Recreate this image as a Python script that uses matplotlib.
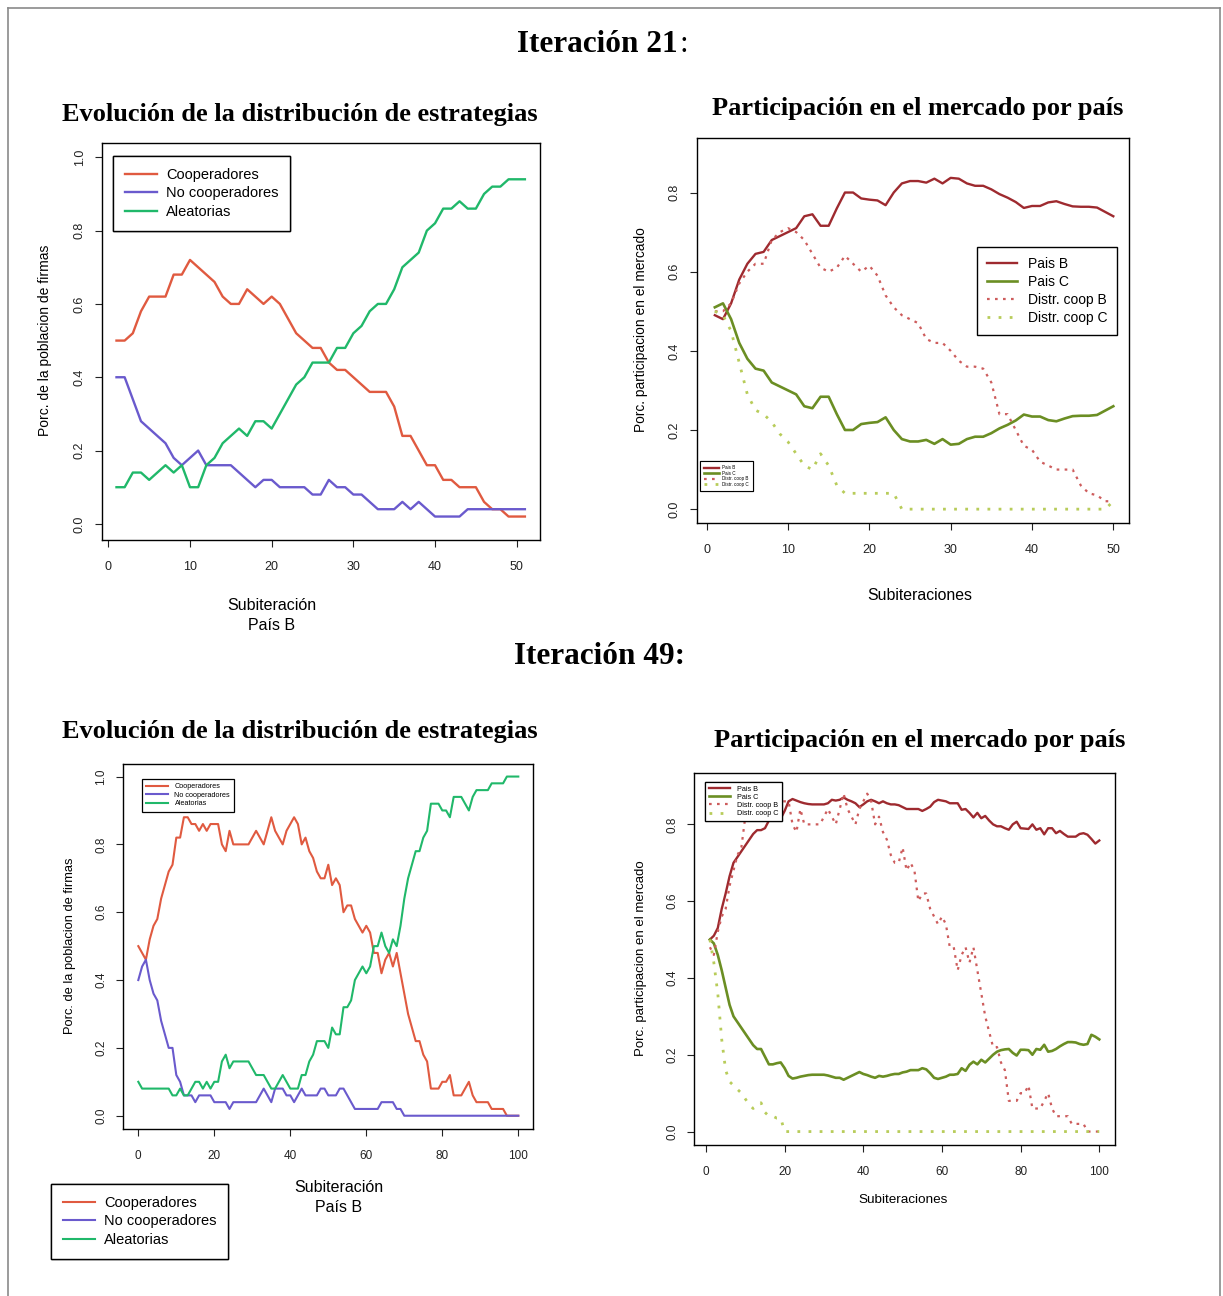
import matplotlib
matplotlib.use('Agg')
import matplotlib.pyplot as plt
from matplotlib.lines import Line2D

# ---------------- DATA ----------------
# Iteración 21 - left panel (Subiteración 1..51)
sub21 = list(range(1, 52))
cooperadores21 = [.50, .50, .52, .58, .62, .62, .62, .68, .68, .72,
                  .70, .68, .66, .62, .60, .60, .64, .62, .60, .62,
                  .60, .56, .52, .50, .48, .48, .44, .42, .42, .40,
                  .38, .36, .36, .36, .32, .24, .24, .20, .16, .16,
                  .12, .12, .10, .10, .10, .06, .04, .04, .02, .02, .02]
nocoop21 = [.40, .40, .34, .28, .26, .24, .22, .18, .16, .18,
            .20, .16, .16, .16, .16, .14, .12, .10, .12, .12,
            .10, .10, .10, .10, .08, .08, .12, .10, .10, .08,
            .08, .06, .04, .04, .04, .06, .04, .06, .04, .02,
            .02, .02, .02, .04, .04, .04, .04, .04, .04, .04, .04]
aleatorias21 = [.10, .10, .14, .14, .12, .14, .16, .14, .16, .10,
                .10, .16, .18, .22, .24, .26, .24, .28, .28, .26,
                .30, .34, .38, .40, .44, .44, .44, .48, .48, .52,
                .54, .58, .60, .60, .64, .70, .72, .74, .80, .82,
                .86, .86, .88, .86, .86, .90, .92, .92, .94, .94, .94]

# Iteración 21 - right panel (Subiteraciones 1..50)
subm21 = list(range(1, 51))
paisB21 = [.49, .48, .52, .58, .62, .645, .65, .68, .69, .70,
           .71, .74, .745, .716, .716, .76, .80, .80, .785, .782,
           .78, .768, .80, .823, .829, .829, .825, .835, .823, .837,
           .835, .823, .817, .817, .808, .796, .787, .776, .761, .766,
           .766, .775, .778, .771, .765, .764, .764, .762, .751, .74]
paisC21 = [.51, .52, .48, .42, .38, .355, .35, .32, .31, .30,
           .29, .26, .255, .284, .284, .24, .20, .20, .215, .218,
           .22, .232, .20, .177, .171, .171, .175, .165, .177, .163,
           .165, .177, .183, .183, .192, .204, .213, .224, .239, .234,
           .234, .225, .222, .229, .235, .236, .236, .238, .249, .26]
coopB21 = [.50, .50, .52, .57, .60, .62, .62, .68, .70, .71,
           .70, .68, .645, .61, .60, .61, .64, .62, .60, .615,
           .59, .54, .51, .49, .48, .47, .43, .42, .42, .40,
           .375, .36, .36, .355, .32, .24, .24, .20, .16, .15,
           .12, .11, .10, .10, .10, .06, .04, .035, .02, .02]
coopC21 = [.50, .49, .45, .37, .29, .25, .24, .22, .19, .17,
           .14, .11, .10, .14, .11, .06, .04, .04, .04, .04,
           .04, .04, .04, 0, 0, 0, 0, 0, 0, 0,
           0, 0, 0, 0, 0, 0, 0, 0, 0, 0,
           0, 0, 0, 0, 0, 0, 0, 0, 0, .02]

# Iteración 49 - left panel (Subiteración 0..100)
sub49 = list(range(0, 101))
cooperadores49 = [.50, .48, .46, .52, .56, .58, .64, .68, .72, .74,
                  .82, .82, .88, .88, .86, .86, .84, .86, .84, .86,
                  .86, .86, .80, .78, .84, .80, .80, .80, .80, .80,
                  .82, .84, .82, .80, .84, .88, .84, .82, .80, .84,
                  .86, .88, .86, .80, .82, .78, .76, .72, .70, .70,
                  .74, .68, .70, .68, .60, .62, .62, .58, .56, .54,
                  .56, .54, .48, .48, .42, .46, .48, .44, .48, .42,
                  .36, .30, .26, .22, .22, .18, .16, .08, .08, .08,
                  .10, .10, .12, .06, .06, .06, .08, .10, .06, .04,
                  .04, .04, .04, .02, .02, .02, .02, 0, 0, 0, 0]
nocoop49 = [.40, .44, .46, .40, .36, .34, .28, .24, .20, .20,
            .12, .10, .06, .06, .06, .04, .06, .06, .06, .06,
            .04, .04, .04, .04, .02, .04, .04, .04, .04, .04,
            .04, .04, .06, .08, .06, .04, .08, .08, .08, .06,
            .06, .04, .06, .08, .06, .06, .06, .06, .08, .08,
            .06, .06, .06, .08, .08, .06, .04, .02, .02, .02,
            .02, .02, .02, .02, .04, .04, .04, .04, .02, .02,
            0, 0, 0, 0, 0, 0, 0, 0, 0, 0,
            0, 0, 0, 0, 0, 0, 0, 0, 0, 0,
            0, 0, 0, 0, 0, 0, 0, 0, 0, 0, 0]
aleatorias49 = [.10, .08, .08, .08, .08, .08, .08, .08, .08, .06,
                .06, .08, .06, .06, .08, .10, .10, .08, .10, .08,
                .10, .10, .16, .18, .14, .16, .16, .16, .16, .16,
                .14, .12, .12, .12, .10, .08, .08, .10, .12, .10,
                .08, .08, .08, .12, .12, .16, .18, .22, .22, .22,
                .20, .26, .24, .24, .32, .32, .34, .40, .42, .44,
                .42, .44, .50, .50, .54, .50, .48, .52, .50, .56,
                .64, .70, .74, .78, .78, .82, .84, .92, .92, .92,
                .90, .90, .88, .94, .94, .94, .92, .90, .94, .96,
                .96, .96, .96, .98, .98, .98, .98, 1.0, 1.0, 1.0, 1.0]

# Iteración 49 - right panel (Subiteraciones 1..100)
subm49 = list(range(1, 101))
paisB49 = [.50, .51, .53, .58, .62, .665, .70, .715, .73, .745,
           .76, .775, .785, .785, .79, .81, .815, .815, .815, .835,
           .86, .866, .862, .858, .855, .853, .852, .852, .852, .852,
           .855, .864, .862, .864, .87, .864, .86, .855, .845, .852,
           .86, .864, .86, .855, .86, .855, .852, .852, .85, .845,
           .84, .84, .84, .84, .835, .84, .846, .858, .864, .862,
           .86, .855, .855, .855, .838, .84, .83, .818, .83, .816,
           .822, .81, .80, .795, .795, .79, .786, .80, .807, .79,
           .789, .788, .80, .786, .79, .774, .79, .79, .777, .783,
           .775, .768, .768, .768, .775, .777, .773, .762, .75, .758]
paisC49 = [.50, .49, .46, .42, .375, .33, .30, .285, .27, .255,
           .24, .225, .215, .215, .195, .175, .175, .178, .18, .165,
           .145, .138, .14, .143, .145, .147, .148, .148, .148, .148,
           .146, .143, .14, .14, .135, .14, .145, .15, .155, .15,
           .147, .143, .14, .145, .143, .145, .148, .15, .15, .154,
           .156, .16, .16, .16, .165, .162, .152, .14, .137, .14,
           .143, .148, .148, .15, .165, .158, .174, .182, .175, .187,
           .18, .19, .20, .208, .212, .214, .215, .205, .198, .213,
           .213, .212, .20, .215, .213, .226, .208, .21, .215, .222,
           .228, .233, .233, .232, .228, .226, .228, .252, .247, .24]
coopB49 = cooperadores49[1:]   # same cooperator share as the left panel
coopC49 = [.50, .44, .36, .24, .16, .13, .12, .11, .10, .085,
           .07, .06, .07, .075, .05, .04, .04, .035, .035, 0,
           0, 0, 0, 0, 0, 0, 0, 0, 0, 0,
           0, 0, 0, 0, 0, 0, 0, 0, 0, 0,
           0, 0, 0, 0, 0, 0, 0, 0, 0, 0,
           0, 0, 0, 0, 0, 0, 0, 0, 0, 0,
           0, 0, 0, 0, 0, 0, 0, 0, 0, 0,
           0, 0, 0, 0, 0, 0, 0, 0, 0, 0,
           0, 0, 0, 0, 0, 0, 0, 0, 0, 0,
           0, 0, 0, 0, 0, 0, 0, 0, 0, 0]

strat_labels = ['Cooperadores', 'No cooperadores', 'Aleatorias']
market_labels = ['Pais B', 'Pais C', 'Distr. coop B', 'Distr. coop C']

# ---------------- STYLE ----------------
C_COOP, C_NOCOOP, C_ALEA = '#e05a40', '#6a5acd', '#20b86a'
C_PB, C_PC, C_DB, C_DC = '#9e2a2f', '#6b8e23', '#cd5c5c', '#b8cc5a'

W, H = 1223, 1296
plt.rcParams['font.family'] = ['Liberation Sans', 'DejaVu Sans']
fig = plt.figure(figsize=(W / 100, H / 100), dpi=100)
fig.patch.set_facecolor('white')


def rect(l, t, r, b):
    return [l / W, 1 - b / H, (r - l) / W, (b - t) / H]


def fx(px):
    return px / W


def fy(py):
    return 1 - py / H


def style(ax, xlim, ylim, xticks, yticks, lsize=9):
    ax.set_xlim(xlim)
    ax.set_ylim(ylim)
    ax.set_xticks(xticks)
    ax.set_yticks(yticks)
    ax.set_xticklabels([str(t) for t in xticks])
    ax.set_yticklabels([f'{t:.1f}' for t in yticks], rotation=90, va='center')
    ax.tick_params(direction='out', length=5, width=0.8,
                   labelsize=lsize, colors='#222222')
    ax.tick_params(axis='x', pad=10)
    ax.tick_params(axis='y', pad=6.5)
    for s in ax.spines.values():
        s.set_linewidth(1.0)


def legend(ax, handles, labels, x, y, fs, hl, htp, ls, bp, lw=1.0):
    lg = ax.legend(handles, labels, loc='upper left',
                   bbox_to_anchor=(fx(x), fy(y)), bbox_transform=fig.transFigure,
                   borderaxespad=0, fancybox=False, edgecolor='black',
                   framealpha=1, fontsize=fs, handlelength=hl,
                   handletextpad=htp, labelspacing=ls, borderpad=bp)
    lg.get_frame().set_linewidth(lw)
    ax.add_artist(lg)
    return lg


TITLE = dict(family=['Liberation Serif', 'DejaVu Serif'], fontweight='bold')

# ---- frame of the page ----
for xs, ys in [([8, 8], [1296, 8]), ([8, 1220], [8, 8]), ([1220, 1220], [8, 1296])]:
    fig.add_artist(Line2D([fx(v) for v in xs], [fy(v) for v in ys],
                          transform=fig.transFigure, color='#8a8a8a', lw=1.2))

# ---- headings ----
fig.text(fx(678), fy(44), 'Iteración 21', ha='right', va='center', fontsize=22.5, **TITLE)
fig.text(fx(679), fy(44), ':', ha='left', va='center', fontsize=22.5,
         family=['Liberation Serif', 'DejaVu Serif'])
fig.text(fx(600), fy(657), 'Iteración 49:', ha='center', va='center', fontsize=22.5, **TITLE)
fig.text(fx(300), fy(114), 'Evolución de la distribución de estrategias',
         ha='center', va='center', fontsize=19, **TITLE)
fig.text(fx(918), fy(108), 'Participación en el mercado por país',
         ha='center', va='center', fontsize=19, **TITLE)
fig.text(fx(300), fy(732), 'Evolución de la distribución de estrategias',
         ha='center', va='center', fontsize=19, **TITLE)
fig.text(fx(920), fy(740), 'Participación en el mercado por país',
         ha='center', va='center', fontsize=19, **TITLE)

# ================= Iteración 21 left =================
ax1 = fig.add_axes(rect(101.7, 143, 540, 540))
h1 = ax1.plot(sub21, cooperadores21, color=C_COOP, lw=1.7)[0]
h2 = ax1.plot(sub21, nocoop21, color=C_NOCOOP, lw=1.7)[0]
h3 = ax1.plot(sub21, aleatorias21, color=C_ALEA, lw=1.7)[0]
style(ax1, (-0.81, 52.85), (-0.044, 1.039), [0, 10, 20, 30, 40, 50],
      [0.0, 0.2, 0.4, 0.6, 0.8, 1.0])
legend(ax1, [h1, h2, h3], strat_labels, 113, 156, 10.5, 2.2, 0.65, 0.32, 0.8)
fig.text(fx(45), fy(340), 'Porc. de la poblacion de firmas', rotation=90,
         ha='center', va='center', fontsize=10)
fig.text(fx(272), fy(606), 'Subiteración', ha='center', va='center', fontsize=11.5)
fig.text(fx(272), fy(626), 'País B', ha='center', va='center', fontsize=11.5)

# ================= Iteración 21 right =================
ax2 = fig.add_axes(rect(696.7, 138.3, 1129, 523))
g1 = ax2.plot(subm21, paisB21, color=C_PB, lw=1.7)[0]
g2 = ax2.plot(subm21, paisC21, color=C_PC, lw=1.9)[0]
g3 = ax2.plot(subm21, coopB21, color=C_DB, lw=1.6, dashes=(1.2, 2.4))[0]
g4 = ax2.plot(subm21, coopC21, color=C_DC, lw=2.0, dashes=(1.0, 3.0))[0]
style(ax2, (-1.23, 51.93), (-0.035, 0.937), [0, 10, 20, 30, 40, 50],
      [0.0, 0.2, 0.4, 0.6, 0.8])
legend(ax2, [g1, g2, g3, g4], market_labels, 977, 247, 10, 2.2, 0.75, 0.3, 0.7)
legend(ax2, [g1, g2, g3, g4], market_labels, 700, 461, 3.3, 3.2, 0.6, 0.12, 0.95, lw=0.8)
fig.text(fx(641), fy(330), 'Porc. participacion en el mercado', rotation=90,
         ha='center', va='center', fontsize=9.9)
fig.text(fx(920), fy(596), 'Subiteraciones', ha='center', va='center', fontsize=11.4)

# ================= Iteración 49 left =================
ax3 = fig.add_axes(rect(123.3, 764, 533.3, 1129.3))
k1 = ax3.plot(sub49, cooperadores49, color=C_COOP, lw=1.5)[0]
k2 = ax3.plot(sub49, nocoop49, color=C_NOCOOP, lw=1.5)[0]
k3 = ax3.plot(sub49, aleatorias49, color=C_ALEA, lw=1.5)[0]
style(ax3, (-3.95, 103.95), (-0.04, 1.037), [0, 20, 40, 60, 80, 100],
      [0.0, 0.2, 0.4, 0.6, 0.8, 1.0], lsize=8.5)
legend(ax3, [k1, k2, k3], strat_labels, 142, 779, 5.2, 3.0, 0.9, 0.2, 0.6, lw=0.9)
legend(ax3, [k1, k2, k3], strat_labels, 51, 1184, 10.5, 2.2, 0.65, 0.32, 0.8)
fig.text(fx(70), fy(946), 'Porc. de la poblacion de firmas', rotation=90,
         ha='center', va='center', fontsize=9.3)
fig.text(fx(339), fy(1188), 'Subiteración', ha='center', va='center', fontsize=11.5)
fig.text(fx(339), fy(1207), 'País B', ha='center', va='center', fontsize=11.5)

# ================= Iteración 49 right =================
ax4 = fig.add_axes(rect(694.3, 773.3, 1115, 1145))
m1 = ax4.plot(subm49, paisB49, color=C_PB, lw=1.7)[0]
m2 = ax4.plot(subm49, paisC49, color=C_PC, lw=1.9)[0]
m3 = ax4.plot(subm49, coopB49, color=C_DB, lw=1.6, dashes=(1.2, 2.4))[0]
m4 = ax4.plot(subm49, coopC49, color=C_DC, lw=2.0, dashes=(1.0, 3.0))[0]
style(ax4, (-2.97, 104.0), (-0.035, 0.933), [0, 20, 40, 60, 80, 100],
      [0.0, 0.2, 0.4, 0.6, 0.8], lsize=8.5)
legend(ax4, [m1, m2, m3, m4], market_labels, 705, 782, 5.2, 3.0, 0.9, 0.15, 0.5, lw=0.9)
fig.text(fx(641), fy(958), 'Porc. participacion en el mercado', rotation=90,
         ha='center', va='center', fontsize=9.5)
fig.text(fx(903), fy(1200), 'Subiteraciones', ha='center', va='center', fontsize=9.7)

fig.savefig('out.png', dpi=100)
